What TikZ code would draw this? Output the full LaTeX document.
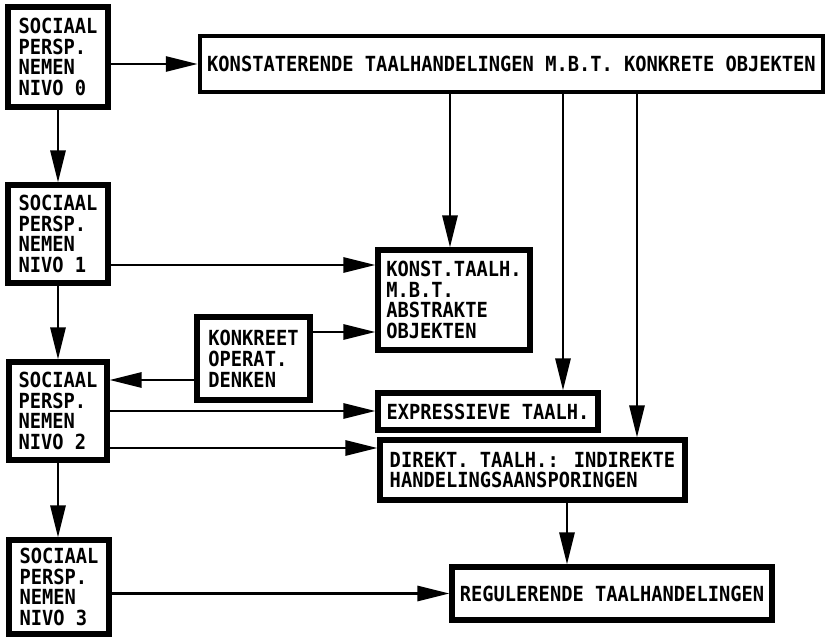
\documentclass[tikz,border=0pt]{standalone}
\usepackage{fontspec}
\newfontfamily\printfont{DejaVu Sans Mono}[FakeStretch=0.9]
\usetikzlibrary{arrows.meta}

\begin{document}
\begin{tikzpicture}[
    x=0.5pt, y=-0.5pt,
    box/.style={rectangle, draw=black, line width=2.6pt, fill=white,
                inner sep=1pt, align=left,
                font=\printfont\bfseries\fontsize{10.4}{10.4}\selectfont},
    arr/.style={-{Triangle[length=16pt, width=7.5pt]}, line width=1.4pt}
]
\useasboundingbox (0,0) rectangle (827,638);

\node[box, minimum width=50pt, minimum height=50pt] (niv0) at (58,57) {SOCIAAL\\PERSP.\\NEMEN\\NIVO 0};
\node[box, minimum width=50pt, minimum height=49pt] (niv1) at (58,234) {SOCIAAL\\PERSP.\\NEMEN\\NIVO 1};
\node[box, minimum width=49pt, minimum height=49pt] (niv2) at (58,411) {SOCIAAL\\PERSP.\\NEMEN\\NIVO 2};
\node[box, minimum width=50pt, minimum height=47pt] (niv3) at (59,587) {SOCIAAL\\PERSP.\\NEMEN\\NIVO 3};

\node[box, line width=2.2pt, minimum width=311.5pt, minimum height=28pt] (konkr) at (511.5,64) {KONSTATERENDE TAALHANDELINGEN M.B.T. KONKRETE OBJEKTEN};
\node[box, minimum width=76pt, minimum height=50pt] (abstr) at (454,300) {KONST.TAALH.\\M.B.T.\\ABSTRAKTE\\OBJEKTEN};
\node[box, minimum width=56.5pt, minimum height=41.5pt] (denk) at (253.5,358.5) {KONKREET\\OPERAT.\\DENKEN};
\node[box, minimum width=110pt, minimum height=18.5pt] (expr) at (488,411.5) {EXPRESSIEVE TAALH.};
\node[box, minimum width=152.5pt, minimum height=30pt] (direkt) at (532.5,470) {DIREKT. TAALH.: INDIREKTE\\HANDELINGSAANSPORINGEN};
\node[box, minimum width=160pt, minimum height=26.5pt] (regul) at (612,593.5) {REGULERENDE TAALHANDELINGEN};

\draw[arr] (niv0.east |- konkr.west) -- (konkr.west);
\draw[arr] (niv0.south) -- (niv1.north);
\draw[arr] (niv1.south) -- (niv2.north);
\draw[arr] (niv2.south) -- (niv2.south |- niv3.north);

\draw[arr] ([yshift=-15.5pt]niv1.east) -- ([yshift=-15.5pt]niv1.east -| abstr.west);
\draw[arr] ([yshift=13.25pt]denk.east) -- ([yshift=13.25pt]denk.east -| abstr.west);
\draw[arr] ([yshift=-10.75pt]denk.west) -- ([yshift=-10.75pt]denk.west -| niv2.east);
\draw[arr] (niv2.east) -- (niv2.east -| expr.west);
\draw[arr] ([yshift=-18.5pt]niv2.east) -- ([yshift=-18.5pt]niv2.east -| direkt.west);
\draw[arr] (niv3.east |- regul.west) -- (regul.west);

\draw[arr] ([xshift=-2pt]abstr.north |- konkr.south) -- ([xshift=-2pt]abstr.north);
\draw[arr] ([xshift=37.5pt]expr.north |- konkr.south) -- ([xshift=37.5pt]expr.north);
\draw[arr] ([xshift=52.25pt]direkt.north |- konkr.south) -- ([xshift=52.25pt]direkt.north);
\draw[arr] ([xshift=17.25pt]direkt.south) -- ([xshift=17.25pt]direkt.south |- regul.north);

\end{tikzpicture}
\end{document}
